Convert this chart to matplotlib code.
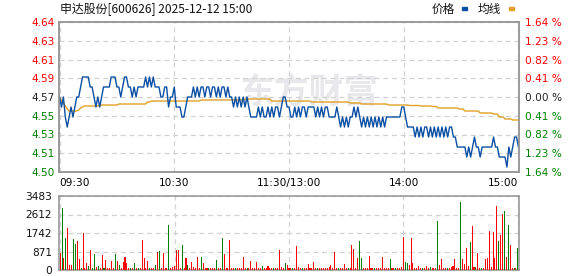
import matplotlib
matplotlib.use("Agg")
import matplotlib.pyplot as plt
import numpy as np

plt.rcParams['font.family'] = ['DejaVu Sans', 'Noto Sans CJK SC']

# 分时价格 (每分钟), 09:30 - 15:00 共 241 点
price = [
    4.57, 4.56, 4.57, 4.55, 4.54, 4.55, 4.56, 4.55, 4.56, 4.57,
    4.57, 4.58, 4.59, 4.59, 4.59, 4.59, 4.58, 4.58, 4.57, 4.56,
    4.57, 4.56, 4.57, 4.58, 4.58, 4.58, 4.58, 4.59, 4.59, 4.59,
    4.58, 4.58, 4.57, 4.58, 4.59, 4.59, 4.58, 4.58, 4.57, 4.58,
    4.57, 4.58, 4.58, 4.58, 4.58, 4.59, 4.58, 4.59, 4.58, 4.59,
    4.58, 4.58, 4.58, 4.57, 4.57, 4.58, 4.58, 4.56, 4.57, 4.57,
    4.58, 4.56, 4.56, 4.56, 4.55, 4.55, 4.56, 4.57, 4.57, 4.57,
    4.58, 4.57, 4.58, 4.57, 4.58, 4.58, 4.57, 4.58, 4.58, 4.57,
    4.58, 4.58, 4.57, 4.58, 4.57, 4.58, 4.58, 4.57, 4.58, 4.57,
    4.57, 4.56, 4.57, 4.56, 4.57, 4.56, 4.57, 4.56, 4.57, 4.56,
    4.55, 4.55, 4.55, 4.55, 4.56, 4.55, 4.56, 4.55, 4.55, 4.56,
    4.55, 4.56, 4.55, 4.56, 4.56, 4.55, 4.56, 4.57, 4.57, 4.56,
    4.56, 4.55, 4.55, 4.56, 4.55, 4.56, 4.55, 4.56, 4.56, 4.55,
    4.56, 4.56, 4.56, 4.56, 4.55, 4.56, 4.55, 4.56, 4.55, 4.56,
    4.56, 4.55, 4.55, 4.55, 4.55, 4.56, 4.55, 4.54, 4.55, 4.54,
    4.55, 4.54, 4.55, 4.55, 4.56, 4.55, 4.56, 4.55, 4.54, 4.55,
    4.54, 4.55, 4.54, 4.55, 4.54, 4.55, 4.54, 4.55, 4.54, 4.55,
    4.54, 4.55, 4.55, 4.55, 4.55, 4.55, 4.55, 4.55, 4.55, 4.56,
    4.56, 4.55, 4.54, 4.54, 4.54, 4.54, 4.53, 4.54, 4.53, 4.54,
    4.53, 4.54, 4.54, 4.53, 4.54, 4.53, 4.54, 4.53, 4.54, 4.53,
    4.54, 4.53, 4.54, 4.53, 4.54, 4.54, 4.53, 4.53, 4.52, 4.52,
    4.52, 4.52, 4.52, 4.51, 4.52, 4.51, 4.52, 4.53, 4.52, 4.52,
    4.51, 4.52, 4.52, 4.52, 4.52, 4.52, 4.52, 4.53, 4.52, 4.52,
    4.51, 4.51, 4.51, 4.51, 4.50, 4.52, 4.51, 4.52, 4.53, 4.53,
    4.52,
]

# 均价线
avg_price = [
    4.570, 4.566, 4.564, 4.561, 4.558, 4.556, 4.556, 4.556, 4.556, 4.556,
    4.557, 4.559, 4.560, 4.561, 4.561, 4.561, 4.561, 4.561, 4.561, 4.561,
    4.561, 4.562, 4.562, 4.562, 4.562, 4.562, 4.562, 4.562, 4.562, 4.562,
    4.562, 4.563, 4.563, 4.563, 4.563, 4.563, 4.563, 4.563, 4.563, 4.563,
    4.563, 4.563, 4.563, 4.563, 4.563, 4.563, 4.565, 4.565, 4.566, 4.566,
    4.566, 4.566, 4.566, 4.566, 4.566, 4.566, 4.566, 4.566, 4.566, 4.566,
    4.566, 4.566, 4.566, 4.566, 4.566, 4.566, 4.566, 4.566, 4.566, 4.566,
    4.566, 4.566, 4.566, 4.566, 4.567, 4.567, 4.567, 4.567, 4.567, 4.567,
    4.567, 4.567, 4.567, 4.567, 4.567, 4.567, 4.567, 4.567, 4.567, 4.567,
    4.567, 4.567, 4.567, 4.567, 4.567, 4.567, 4.567, 4.568, 4.568, 4.568,
    4.568, 4.568, 4.568, 4.568, 4.568, 4.568, 4.568, 4.568, 4.568, 4.568,
    4.568, 4.566, 4.566, 4.566, 4.566, 4.566, 4.566, 4.566, 4.566, 4.566,
    4.566, 4.566, 4.566, 4.566, 4.566, 4.566, 4.566, 4.566, 4.566, 4.566,
    4.566, 4.566, 4.565, 4.565, 4.565, 4.565, 4.565, 4.565, 4.565, 4.565,
    4.565, 4.565, 4.565, 4.565, 4.565, 4.565, 4.565, 4.565, 4.565, 4.565,
    4.565, 4.565, 4.564, 4.564, 4.564, 4.564, 4.564, 4.564, 4.563, 4.563,
    4.563, 4.563, 4.563, 4.563, 4.563, 4.563, 4.563, 4.563, 4.563, 4.563,
    4.563, 4.563, 4.562, 4.562, 4.562, 4.562, 4.562, 4.562, 4.562, 4.562,
    4.562, 4.562, 4.562, 4.5615, 4.5615, 4.5615, 4.5615, 4.5615, 4.5615, 4.561,
    4.561, 4.561, 4.561, 4.561, 4.561, 4.5605, 4.5605, 4.5605, 4.559, 4.559,
    4.559, 4.559, 4.559, 4.559, 4.559, 4.559, 4.559, 4.559, 4.559, 4.558,
    4.558, 4.558, 4.556, 4.556, 4.556, 4.556, 4.556, 4.556, 4.556, 4.556,
    4.554, 4.554, 4.554, 4.554, 4.554, 4.554, 4.554, 4.553, 4.553, 4.553,
    4.550, 4.550, 4.550, 4.548, 4.548, 4.548, 4.548, 4.547, 4.547, 4.547,
    4.547,
]

# 成交量(手)
volume = [
    816, 2900, 550, 1490, 1960, 235, 235, 1440, 1210, 1365,
    500, 90, 1760, 90, 330, 190, 940, 90, 750, 160,
    190, 90, 700, 90, 470, 90, 90, 420, 90, 750,
    420, 235, 90, 375, 600, 345, 90, 90, 90, 330,
    90, 90, 90, 1410, 565, 90, 420, 90, 90, 90,
    235, 850, 895, 90, 816, 90, 90, 2120, 90, 160,
    190, 940, 940, 90, 1180, 90, 550, 235, 90, 390,
    160, 90, 600, 90, 600, 345, 90, 90, 90, 90,
    90, 90, 470, 90, 90, 1490, 750, 90, 90, 1410,
    90, 90, 90, 90, 90, 90, 600, 90, 80, 90,
    420, 90, 90, 390, 90, 90, 190, 90, 90, 190,
    90, 90, 90, 90, 90, 940, 120, 90, 345, 235,
    90, 90, 90, 90, 1130, 120, 90, 90, 90, 90,
    280, 90, 90, 390, 90, 90, 90, 100, 90, 90,
    90, 160, 235, 90, 860, 90, 90, 90, 90, 280,
    90, 90, 90, 1180, 990, 90, 580, 1380, 580, 90,
    90, 90, 660, 90, 90, 90, 90, 90, 90, 630,
    90, 90, 90, 520, 90, 90, 90, 90, 90, 120,
    1570, 390, 345, 235, 1520, 345, 90, 90, 190, 90,
    90, 90, 190, 90, 120, 90, 90, 90, 2300, 235,
    520, 90, 90, 90, 90, 120, 190, 520, 90, 90,
    3200, 520, 280, 1035, 190, 1330, 2070, 120, 120, 816,
    90, 90, 90, 520, 565, 1850, 120, 1790, 565, 3030,
    1380, 1650, 2640, 2780, 630, 2120, 1180, 90, 90, 90,
    1035,
]

# 绿色(下跌)成交量柱所在分钟
green_bars = [1, 3, 7, 8, 11, 15, 17, 18, 20, 23, 29, 31, 37, 39, 41, 47, 50,
              52, 57, 64, 67, 74, 78, 82, 85, 92, 98, 106, 112, 118, 122, 127,
              135, 146, 151, 157, 158, 165, 173, 176, 181, 182, 190, 194, 198,
              203, 210, 215, 218, 221, 230, 233, 235, 238, 240]

prev_close = 4.57
pct_steps = [-4, -3, -2, -1, 0, 1, 2, 3, 4]
price_labels = ['4.50', '4.51', '4.53', '4.55', '4.57', '4.59', '4.61', '4.63', '4.64']
pct_labels = ['1.64 %', '1.23 %', '0.82 %', '0.41 %', '0.00 %', '0.41 %', '0.82 %', '1.23 %', '1.64 %']
vol_labels = ['0', '871', '1742', '2612', '3483']
time_labels = ['09:30', '10:30', '11:30/13:00', '14:00', '15:00']

RED = '#ff0000'
GREEN = '#008000'
BLUE = '#0b4fa3'
GOLD = '#e0a125'
FRAME = '#9a9a9a'
GRID = '#d2d2d2'

fig = plt.figure(figsize=(5.78, 2.76), dpi=100)
ax = fig.add_axes([59 / 578, 1 - 172 / 276, 460 / 578, 150 / 276])
axv = fig.add_axes([59 / 578, 1 - 270 / 276, 460 / 578, 74 / 276])

minutes = np.arange(len(price))
step = prev_close * 0.0041
ticks = [prev_close + k * step for k in pct_steps]

# 水印
ax.text(0.545, 0.53, '东方财富', transform=ax.transAxes, ha='center', va='center',
        fontsize=25, fontweight='bold', color='#e8e8ec', family=['Noto Sans CJK SC'],
        zorder=0)

ax.plot(minutes, avg_price, color=GOLD, lw=1.0, zorder=3)
ax.plot(minutes, price, color=BLUE, lw=1.0, zorder=4)

ax.set_xlim(-0.3, 240.3)
ax.set_ylim(ticks[0], ticks[-1])
ax.set_yticks(ticks)
ax.set_yticklabels(price_labels)
ax.set_xticks([0, 60, 120, 180, 240])
ax.set_xticklabels(time_labels)
ax.grid(True, color=GRID, ls=(0, (4, 3)), lw=0.9)
ax.tick_params(length=0, labelsize=7.6, pad=3)
ax.tick_params(axis='x', pad=4)
xl = ax.get_xticklabels()
xl[0].set_ha('left')
xl[-1].set_ha('right')
for lab, k in zip(ax.get_yticklabels(), pct_steps):
    lab.set_color(RED if k > 0 else (GREEN if k < 0 else '#222222'))

axr = ax.twinx()
axr.set_ylim(ticks[0], ticks[-1])
axr.set_yticks(ticks)
axr.set_yticklabels(pct_labels)
axr.tick_params(length=0, labelsize=7.6, pad=4)
for lab, k in zip(axr.get_yticklabels(), pct_steps):
    lab.set_color(RED if k > 0 else (GREEN if k < 0 else '#222222'))

for a in (ax, axr, axv):
    for s in a.spines.values():
        s.set_color(FRAME)
        s.set_linewidth(1.2)

# 成交量
bar_colors = [GREEN if i in green_bars else RED for i in minutes]
axv.bar(minutes, volume, width=0.55, color=bar_colors, linewidth=0,
        antialiased=False, zorder=3)
axv.set_xlim(-0.6, 240.6)
axv.set_ylim(0, 3483)
axv.set_yticks([0, 870.75, 1741.5, 2612.25, 3483])
axv.set_yticklabels(vol_labels)
axv.set_xticks([0, 60, 120, 180, 240])
axv.tick_params(axis='x', length=0, labelbottom=False)
axv.tick_params(axis='y', length=0, labelsize=7.6, pad=5, labelcolor='#111111')
axv.grid(True, color=GRID, ls=(0, (4, 3)), lw=0.9)

# 标题与图例
fig.text(60 / 578, 1 - 9 / 276, '申达股份[600626] 2025-12-12 15:00', ha='left', va='center',
         fontsize=8.6, family=['Noto Sans CJK SC', 'DejaVu Sans'], color='#111111')
fig.text(455 / 578, 1 - 9 / 276, '价格', ha='right', va='center', fontsize=8.4,
         family=['Noto Sans CJK SC'], color='#111111')
fig.text(501 / 578, 1 - 9 / 276, '均线', ha='right', va='center', fontsize=8.4,
         family=['Noto Sans CJK SC'], color='#111111')
fig.patches.append(plt.Rectangle((462 / 578, 1 - 10 / 276), 5 / 578, 3 / 276,
                                 transform=fig.transFigure, color=BLUE))
fig.patches.append(plt.Rectangle((509 / 578, 1 - 10 / 276), 5 / 578, 3 / 276,
                                 transform=fig.transFigure, color=GOLD))

fig.savefig('out.png', dpi=100)
